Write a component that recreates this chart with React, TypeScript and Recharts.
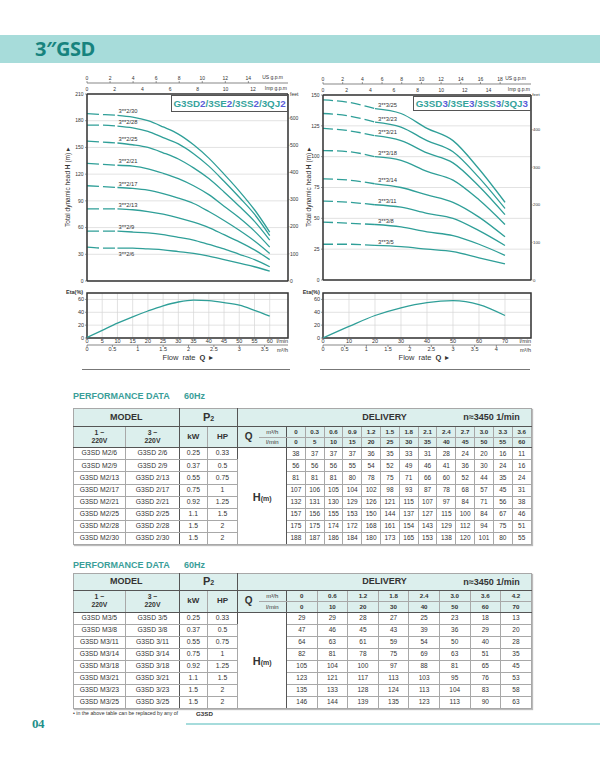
import React from 'react';
import { LineChart, Line, XAxis, YAxis, CartesianGrid, ReferenceArea } from 'recharts';

const FONT = '"Liberation Sans", Arial, Helvetica, sans-serif';
const TEAL = '#2f9f98';
const DARK = '#333';

// ---------- G3SD2 series ----------
const Q2_LMIN = [0, 5, 10, 15, 20, 25, 30, 35, 40, 45, 50, 55, 60];
const Q2_M3H = ['0', '0.3', '0.6', '0.9', '1.2', '1.5', '1.8', '2.1', '2.4', '2.7', '3.0', '3.3', '3.6'];
const H2_6 = [38, 37, 37, 37, 36, 35, 33, 31, 28, 24, 20, 16, 11];
const H2_9 = [56, 56, 56, 55, 54, 52, 49, 46, 41, 36, 30, 24, 16];
const H2_13 = [81, 81, 81, 80, 78, 75, 71, 66, 60, 52, 44, 35, 24];
const H2_17 = [107, 106, 105, 104, 102, 98, 93, 87, 78, 68, 57, 45, 31];
const H2_21 = [132, 131, 130, 129, 126, 121, 115, 107, 97, 84, 71, 56, 38];
const H2_25 = [157, 156, 155, 153, 150, 144, 137, 127, 115, 100, 84, 67, 46];
const H2_28 = [175, 175, 174, 172, 168, 161, 154, 143, 129, 112, 94, 75, 51];
const H2_30 = [188, 187, 186, 184, 180, 173, 165, 153, 138, 120, 101, 80, 55];
const H2_ALL = [H2_6, H2_9, H2_13, H2_17, H2_21, H2_25, H2_28, H2_30];
const CURVE2_LABELS = ['3**2/6', '3**2/9', '3**2/13', '3**2/17', '3**2/21', '3**2/25', '3**2/28', '3**2/30'];
const ETA2 = [1, 12, 23, 33, 42, 50, 56, 59, 58, 55, 51, 43, 34];
const MODEL2_1PH = ['G3SD M2/6', 'G3SD M2/9', 'G3SD M2/13', 'G3SD M2/17', 'G3SD M2/21', 'G3SD M2/25', 'G3SD M2/28', 'G3SD M2/30'];
const MODEL2_3PH = ['G3SD 2/6', 'G3SD 2/9', 'G3SD 2/13', 'G3SD 2/17', 'G3SD 2/21', 'G3SD 2/25', 'G3SD 2/28', 'G3SD 2/30'];
const KW2 = ['0.25', '0.37', '0.55', '0.75', '0.92', '1.1', '1.5', '1.5'];
const HP2 = ['0.33', '0.5', '0.75', '1', '1.25', '1.5', '2', '2'];

// ---------- G3SD3 series ----------
const Q3_LMIN = [0, 10, 20, 30, 40, 50, 60, 70];
const Q3_M3H = ['0', '0.6', '1.2', '1.8', '2.4', '3.0', '3.6', '4.2'];
const H3_5 = [29, 29, 28, 27, 25, 23, 18, 13];
const H3_8 = [47, 46, 45, 43, 39, 36, 29, 20];
const H3_11 = [64, 63, 61, 59, 54, 50, 40, 28];
const H3_14 = [82, 81, 78, 75, 69, 63, 51, 35];
const H3_18 = [105, 104, 100, 97, 88, 81, 65, 45];
const H3_21 = [123, 121, 117, 113, 103, 95, 76, 53];
const H3_23 = [135, 133, 128, 124, 113, 104, 83, 58];
const H3_25 = [146, 144, 139, 135, 123, 113, 90, 63];
const H3_ALL = [H3_5, H3_8, H3_11, H3_14, H3_18, H3_21, H3_23, H3_25];
const CURVE3_LABELS = ['3**3/5', '3**3/8', '3**3/11', '3**3/14', '3**3/18', '3**3/21', '3**3/23', '3**3/25'];
const ETA3 = [0, 18, 35, 47, 55, 58, 52, 35];
const MODEL3_1PH = ['G3SD M3/5', 'G3SD M3/8', 'G3SD M3/11', 'G3SD M3/14', 'G3SD M3/18', 'G3SD M3/21', 'G3SD M3/23', 'G3SD M3/25'];
const MODEL3_3PH = ['G3SD 3/5', 'G3SD 3/8', 'G3SD 3/11', 'G3SD 3/14', 'G3SD 3/18', 'G3SD 3/21', 'G3SD 3/23', 'G3SD 3/25'];
const KW3 = ['0.25', '0.37', '0.55', '0.75', '0.92', '1.1', '1.5', '1.5'];
const HP3 = ['0.33', '0.5', '0.75', '1', '1.25', '1.5', '2', '2'];

// ---------- axis tick lists ----------
const GRID2 = [0, 5, 10, 15, 20, 25, 30, 35, 40, 45, 50, 55, 60, 65];
const Y2_TICKS = [0, 30, 60, 90, 120, 150, 180, 210];
const FT2_TICKS = [0, 100, 200, 300, 400, 500, 600];
const US2_TICKS = [0, 2, 4, 6, 8, 10, 12, 14];
const IMP2_TICKS = [0, 2, 4, 6, 8, 10, 12];
const LMIN2_TICKS = [0, 5, 10, 15, 20, 25, 30, 35, 40, 45, 50, 55, 60];
const M3H2_TICKS = [0, 0.5, 1, 1.5, 2, 2.5, 3, 3.5];

const GRID3 = [0, 10, 20, 30, 40, 50, 60, 70, 80];
const Y3_TICKS = [0, 25, 50, 75, 100, 125, 150];
const FT3_TICKS = [0, 100, 200, 300, 400];
const US3_TICKS = [0, 2, 4, 6, 8, 10, 12, 14, 16, 18];
const IMP3_TICKS = [0, 2, 4, 6, 8, 10, 12, 14];
const LMIN3_TICKS = [0, 10, 20, 30, 40, 50, 60, 70];
const M3H3_TICKS = [0, 0.5, 1, 1.5, 2, 2.5, 3, 3.5, 4];
const ETA_TICKS = [0, 20, 40, 60];

// unit conversions (l/min -> other flow units, m -> feet)
const LMIN_PER_USGPM = 3.785;
const LMIN_PER_IMPGPM = 4.546;
const M3H_PER_LMIN = 0.06;
const FT_PER_M = 3.28084;

const TICK = { fontSize: 5, fill: DARK, fontFamily: FONT };
const TICK_E = { fontSize: 5.5, fill: DARK, fontFamily: FONT };

const curveLabel = (text: string, dx: number, dy: number) => (props: any) => {
  const { cx, cy, index } = props;
  if (index !== 0 || cx == null) return <g key={`d${index}`} />;
  return (
    <text key={`d${index}`} x={cx + dx} y={cy + dy} fontSize={5.8} fill={DARK} fontFamily={FONT}>
      {text}
    </text>
  );
};

function HQChart(p: any) {
  const { width, height, margin, qMax, grid, yMax, yTicks, ftTicks, usTicks, impTicks, q, series, labels, split, dash, yWidth, ftWidth, ldx, ldy, ftTick } = p;
  const axisRows = q.map((qq: number, j: number) => ({ q: qq, us: qq / LMIN_PER_USGPM, imp: qq / LMIN_PER_IMPGPM, m: series[series.length - 1][j], ft: series[series.length - 1][j] * FT_PER_M }));
  return (
    <LineChart width={width} height={height} margin={margin} data={axisRows} style={{ fontFamily: FONT }}>
      <CartesianGrid xAxisId="q" yAxisId="m" stroke="#d6d6d6" strokeWidth={0.7} />
      <XAxis xAxisId="q" type="number" dataKey="q" domain={[0, qMax]} allowDataOverflow ticks={grid} interval={0}
        tick={false} tickLine={false} axisLine={{ stroke: DARK, strokeWidth: 1.5 }} height={2} />
      <XAxis xAxisId="a_imp" orientation="top" type="number" dataKey="imp" domain={[0, qMax / LMIN_PER_IMPGPM]} allowDataOverflow ticks={impTicks} interval={0}
        tickLine={false} axisLine={{ stroke: DARK, strokeWidth: 1.5 }} height={11} tickSize={2} tickMargin={1.5} tick={TICK}
        label={{ value: 'Imp g.p.m', position: 'insideRight', offset: 1, fontSize: 5, fill: DARK }} />
      <XAxis xAxisId="b_us" orientation="top" type="number" dataKey="us" domain={[0, qMax / LMIN_PER_USGPM]} allowDataOverflow ticks={usTicks} interval={0}
        tickLine={{ stroke: '#555', strokeWidth: 0.6 }} axisLine={{ stroke: '#555', strokeWidth: 0.7 }} height={11} tickSize={2} tickMargin={1} tick={TICK}
        label={{ value: 'US g.p.m', position: 'insideRight', offset: 5, fontSize: 5, fill: DARK }} />
      <YAxis yAxisId="m" type="number" dataKey="m" domain={[0, yMax]} allowDataOverflow ticks={yTicks} interval={0} width={yWidth}
        tickSize={2} tickMargin={1.5} axisLine={{ stroke: DARK, strokeWidth: 1.5 }} tickLine={{ stroke: '#555', strokeWidth: 0.6 }} tick={TICK} />
      <YAxis yAxisId="ft" orientation="right" type="number" dataKey="ft" domain={[0, yMax * FT_PER_M]} allowDataOverflow ticks={ftTicks} interval={0} width={ftWidth}
        tickSize={1.5} tickMargin={0.5} axisLine={{ stroke: DARK, strokeWidth: 1.5 }} tickLine={{ stroke: '#555', strokeWidth: 0.6 }} tick={ftTick} />
      {series.map((h: number[], i: number) => (
        <Line key={`dash${i}`} xAxisId="q" yAxisId="m" data={q.slice(0, split + 1).map((qq: number, j: number) => ({ q: qq, h: h[j] }))}
          dataKey="h" type="monotone" stroke={TEAL} strokeWidth={1.3} strokeDasharray={dash} dot={false} activeDot={false} isAnimationActive={false} />
      ))}
      {series.map((h: number[], i: number) => (
        <Line key={`solid${i}`} xAxisId="q" yAxisId="m" data={q.slice(split).map((qq: number, j: number) => ({ q: qq, h: h[j + split] }))}
          dataKey="h" type="monotone" stroke={TEAL} strokeWidth={1.3}
          dot={curveLabel(labels[i], ldx, ldy[i])} activeDot={false} isAnimationActive={false} />
      ))}
    </LineChart>
  );
}

function EtaChart(p: any) {
  const { width, height, margin, qMax, q, eta, lminTicks, m3Ticks, yWidth } = p;
  const rows = q.map((qq: number, j: number) => ({ q: qq, m3: qq * M3H_PER_LMIN, e: eta[j] }));
  return (
    <LineChart width={width} height={height} margin={margin} data={rows} style={{ fontFamily: FONT }}>
      <CartesianGrid xAxisId="a_lmin" yAxisId="e" stroke="#d6d6d6" strokeWidth={0.7} />
      <XAxis xAxisId="a_lmin" type="number" dataKey="q" domain={[0, qMax]} allowDataOverflow ticks={lminTicks} interval={0}
        height={7} tickSize={1} tickMargin={0.5} tickLine={false} axisLine={false} tick={TICK_E}
        label={{ value: 'l/min', position: 'insideRight', offset: 0, fontSize: 5.5, fill: DARK }} />
      <XAxis xAxisId="b_m3" type="number" dataKey="m3" domain={[0, qMax * M3H_PER_LMIN]} allowDataOverflow ticks={m3Ticks} interval={0}
        height={10} tickSize={2} tickMargin={0} axisLine={{ stroke: '#555', strokeWidth: 0.7 }} tickLine={{ stroke: '#555', strokeWidth: 0.6 }} tick={TICK_E}
        label={{ value: 'm³/h', position: 'insideRight', offset: 0, fontSize: 5.5, fill: DARK }} />
      <YAxis yAxisId="e" type="number" dataKey="e" domain={[0, 70]} allowDataOverflow ticks={ETA_TICKS} interval={0} width={yWidth}
        tickSize={2} tickMargin={1} axisLine={false} tickLine={{ stroke: '#555', strokeWidth: 0.6 }} tick={TICK_E} />
      <ReferenceArea xAxisId="a_lmin" yAxisId="e" x1={0} x2={qMax} y1={0} y2={70} fill="none" fillOpacity={0} stroke={DARK} strokeWidth={1.5} />
      <Line xAxisId="a_lmin" yAxisId="e" dataKey="e" type="monotone"
        stroke={TEAL} strokeWidth={1.3} dot={false} activeDot={false} isAnimationActive={false} />
    </LineChart>
  );
}

const HDR_BG = '#dcefed';
const LIGHT = '1px solid #a8a8a8';
const DARKB = '1px solid #555';

function PerfTable(p: any) {
  const { top, m3h, lmin, m1, m3, kw, hp, values, dataW, h1, h2, h3, rh } = p;
  const n = m3h.length;
  const cell: React.CSSProperties = { padding: 0, textAlign: 'center', verticalAlign: 'middle', border: LIGHT, lineHeight: 1, whiteSpace: 'nowrap', overflow: 'hidden' };
  const hdr: React.CSSProperties = { ...cell, background: HDR_BG, fontWeight: 700 };
  const widths = [52.3, 54, 27.7, 30.6, 21, 27.7];
  const total = widths.reduce((a, b) => a + b, 0) + n * dataW;
  return (
    <table style={{ position: 'absolute', left: 72.7, top, width: total, borderCollapse: 'collapse', tableLayout: 'fixed', fontFamily: FONT, color: '#333', border: '1.2px solid #444', boxShadow: '1px 1px 1px #bbb' }}>
      <colgroup>
        {widths.map((w, i) => <col key={i} style={{ width: w }} />)}
        {m3h.map((_: string, i: number) => <col key={`c${i}`} style={{ width: dataW }} />)}
      </colgroup>
      <tbody>
        <tr style={{ height: h1 }}>
          <td colSpan={2} style={{ ...hdr, fontSize: 9, borderRight: DARKB, borderBottom: DARKB }}>MODEL</td>
          <td colSpan={2} style={{ ...hdr, fontSize: 11, borderRight: DARKB, borderBottom: DARKB }}>P<span style={{ fontSize: 7 }}>2</span></td>
          <td colSpan={2 + n} style={{ ...hdr, fontSize: 9, position: 'relative', borderBottom: DARKB }}>
            DELIVERY
            <span style={{ position: 'absolute', right: 11, top: '50%', transform: 'translateY(-50%)', fontSize: 9 }}>n≈3450 1/min</span>
          </td>
        </tr>
        <tr style={{ height: h2 }}>
          <td rowSpan={2} style={{ ...hdr, fontSize: 6.8, lineHeight: 1.25, borderBottom: DARKB }}>1 ~<br />220V</td>
          <td rowSpan={2} style={{ ...hdr, fontSize: 6.8, lineHeight: 1.25, borderRight: DARKB, borderBottom: DARKB }}>3 ~<br />220V</td>
          <td rowSpan={2} style={{ ...hdr, fontSize: 8, borderBottom: DARKB }}>kW</td>
          <td rowSpan={2} style={{ ...hdr, fontSize: 8, borderRight: DARKB, borderBottom: DARKB }}>HP</td>
          <td rowSpan={2} style={{ ...hdr, fontSize: 10, borderRight: 'none', borderBottom: DARKB }}>Q</td>
          <td style={{ ...hdr, fontWeight: 400, fontSize: 6, borderLeft: 'none', borderRight: DARKB }}>m³/h</td>
          {m3h.map((v: string, i: number) => <td key={i} style={{ ...hdr, fontSize: 6.2 }}>{v}</td>)}
        </tr>
        <tr style={{ height: h3 }}>
          <td style={{ ...hdr, fontWeight: 400, fontSize: 6, borderLeft: 'none', borderRight: DARKB, borderBottom: DARKB }}>l/min</td>
          {lmin.map((v: number, i: number) => <td key={i} style={{ ...hdr, fontSize: 6.2, borderBottom: DARKB }}>{v}</td>)}
        </tr>
        {m1.map((name: string, r: number) => (
          <tr key={r} style={{ height: rh }}>
            <td style={{ ...cell, fontSize: 6.8 }}>{name}</td>
            <td style={{ ...cell, fontSize: 6.8, borderRight: DARKB }}>{m3[r]}</td>
            <td style={{ ...cell, fontSize: 6.8 }}>{kw[r]}</td>
            <td style={{ ...cell, fontSize: 6.8, borderRight: DARKB }}>{hp[r]}</td>
            {r === 0 && (
              <td colSpan={2} rowSpan={m1.length} style={{ ...cell, fontWeight: 700, borderRight: DARKB }}>
                <span style={{ fontSize: 11 }}>H</span><span style={{ fontSize: 7 }}>(m)</span>
              </td>
            )}
            {values[r].map((v: number, i: number) => <td key={i} style={{ ...cell, fontSize: 6.5 }}>{v}</td>)}
          </tr>
        ))}
      </tbody>
    </table>
  );
}

function TitleBox(p: any) {
  const { left, top, width, height, parts } = p;
  return (
    <div style={{ position: 'absolute', left, top, width, height, boxSizing: 'border-box', border: '1px solid #555', background: '#fff', display: 'flex', alignItems: 'center', justifyContent: 'center', fontFamily: FONT, fontWeight: 700, fontSize: 9.8, whiteSpace: 'nowrap' }}>
      {parts.map((t: string, i: number) => (
        <span key={i} style={{ color: i % 2 === 1 ? '#5a5cd8' : '#35a39c' }}>{t}</span>
      ))}
    </div>
  );
}

const abs = (s: React.CSSProperties): React.CSSProperties => ({ position: 'absolute', whiteSpace: 'nowrap', ...s });

export default function App() {
  const leftHQ = { width: 310, height: 290, margin: { top: 72, right: 10, bottom: 7, left: 62 }, qMax: 66, grid: GRID2, yMax: 210, yTicks: Y2_TICKS, ftTicks: FT2_TICKS, usTicks: US2_TICKS, impTicks: IMP2_TICKS, q: Q2_LMIN, series: H2_ALL, labels: CURVE2_LABELS, split: 2, dash: '12 4', yWidth: 25, ftWidth: 12, ldx: 1, ldy: [8, -2, -2, -2, -2, -2, -2, -2], ftTick: TICK };
  const rightHQ = { width: 245, height: 290, margin: { top: 73, right: 1, bottom: 8, left: 8 }, qMax: 80, grid: GRID3, yMax: 150, yTicks: Y3_TICKS, ftTicks: FT3_TICKS, usTicks: US3_TICKS, impTicks: IMP3_TICKS, q: Q3_LMIN, series: H3_ALL, labels: CURVE3_LABELS, split: 2, dash: '10 4', yWidth: 19, ftWidth: 9, ldx: 3, ldy: [-1.5, -1.5, -1.5, -1.5, -1.5, -1.5, -1.5, -1.5], ftTick: { ...TICK, fontSize: 4.3 } };
  const ylabel = (x: number) => (
    <div style={abs({ left: x, top: 187, transform: 'translate(-50%,-50%) rotate(-90deg)', fontSize: 6.5, color: DARK })}>
      Total dynamic head <b>H</b> (m) ▸
    </div>
  );
  return (
    <div style={{ position: 'absolute', left: 0, top: 0, width: 600, height: 764, background: '#fff', overflow: 'hidden', fontFamily: FONT, color: DARK }}>
      <div style={abs({ left: 0, top: 35, width: 600, height: 28, background: '#a7dcda' })} />
      <div style={abs({ left: 35, top: 35, height: 28, lineHeight: '28px', fontSize: 20, fontWeight: 700, color: '#17837e', fontFamily: '"Open Sans", "Noto Sans", sans-serif', letterSpacing: -0.5 })}>3″GSD</div>

      {/* left charts */}
      <div style={abs({ left: 0, top: 0 })}>
        <HQChart {...leftHQ} />
      </div>
      <div style={abs({ left: 0, top: 283 })}>
        <EtaChart width={310} height={90} margin={{ top: 10, right: 22, bottom: 18, left: 62 }} qMax={66} q={Q2_LMIN} eta={ETA2} lminTicks={LMIN2_TICKS} m3Ticks={M3H2_TICKS} yWidth={25} />
      </div>
      {ylabel(68)}
      <TitleBox left={171} top={95} width={117} height={17} parts={['G3SD', '2', '/3SE', '2', '/3SS', '2', '/3QJ', '2']} />
      <div style={abs({ left: 290, top: 91, fontSize: 5 })}>feet</div>
      <div style={abs({ left: 66, top: 289, fontSize: 5.5, fontWeight: 700 })}>Eta(%)</div>
      <div style={abs({ left: 188, top: 357, transform: 'translate(-50%,-50%)', fontSize: 7.5, wordSpacing: 2 })}>Flow rate <b>Q</b> ▸</div>
      <div style={abs({ left: 82, top: 369, width: 208, height: 1, background: '#777' })} />

      {/* right charts (cropped at the right like the source) */}
      <div style={abs({ left: 296, top: 0, width: 245, height: 380, overflow: 'hidden' })}>
        <div style={abs({ left: 0, top: 0 })}>
          <HQChart {...rightHQ} />
        </div>
        <div style={abs({ left: 0, top: 283 })}>
          <EtaChart width={245} height={90} margin={{ top: 10, right: 10, bottom: 18, left: 8 }} qMax={80} q={Q3_LMIN} eta={ETA3} lminTicks={LMIN3_TICKS} m3Ticks={M3H3_TICKS} yWidth={19} />
        </div>
        <div style={abs({ left: 236.3, top: 91.5, fontSize: 4.4 })}>feet</div>
      </div>
      {ylabel(309)}
      <TitleBox left={412.7} top={96} width={118.3} height={15} parts={['G3SD', '3', '/3SE', '3', '/3SS', '3', '/3QJ', '3']} />
      <div style={abs({ left: 302.7, top: 289, fontSize: 5.5, fontWeight: 700 })}>Eta(%)</div>
      <div style={abs({ left: 424, top: 357, transform: 'translate(-50%,-50%)', fontSize: 7.5, wordSpacing: 2 })}>Flow rate <b>Q</b> ▸</div>
      <div style={abs({ left: 320, top: 369, width: 210, height: 1, background: '#777' })} />

      {/* tables */}
      <div style={abs({ left: 73, top: 391, fontSize: 9, fontWeight: 700, color: '#3a9e99' })}>PERFORMANCE DATA</div>
      <div style={abs({ left: 184, top: 391, fontSize: 9, fontWeight: 700, color: '#3a9e99' })}>60Hz</div>
      <PerfTable top={408} m3h={Q2_M3H} lmin={Q2_LMIN} m1={MODEL2_1PH} m3={MODEL2_3PH} kw={KW2} hp={HP2} values={H2_ALL} dataW={18.82} h1={17.7} h2={11} h3={10.6} rh={12.08} />

      <div style={abs({ left: 73, top: 560, fontSize: 9, fontWeight: 700, color: '#3a9e99' })}>PERFORMANCE DATA</div>
      <div style={abs({ left: 184, top: 560, fontSize: 9, fontWeight: 700, color: '#3a9e99' })}>60Hz</div>
      <PerfTable top={572.7} m3h={Q3_M3H} lmin={Q3_LMIN} m1={MODEL3_1PH} m3={MODEL3_3PH} kw={KW3} hp={HP3} values={H3_ALL} dataW={30.6} h1={17.3} h2={10.7} h3={11} rh={12} />

      {/* footer */}
      <div style={abs({ left: 73, top: 710, fontSize: 5.2 })}>• in the above table can be replaced by any of</div>
      <div style={abs({ left: 196, top: 709.5, fontSize: 6.2, fontWeight: 700 })}>G3SD</div>
      <div style={abs({ left: 32, top: 716, fontSize: 13, fontWeight: 700, color: '#1f8f8a', fontFamily: '"Liberation Serif", "DejaVu Serif", serif', letterSpacing: -0.5 })}>04</div>
      <div style={abs({ left: 186, top: 723, width: 414, height: 2, background: '#a6dcdc' })} />
    </div>
  );
}
